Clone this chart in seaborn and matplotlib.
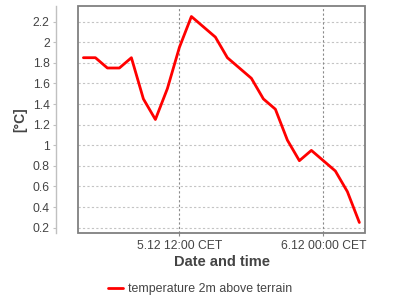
import matplotlib
matplotlib.use("Agg")
import matplotlib.pyplot as plt
import seaborn as sns
import pandas as pd
from matplotlib.patches import Rectangle

# hours since 5.12 00:00 CET
hours = [4, 5, 6, 7, 8, 9, 10, 11, 12, 13, 14, 15,
         16, 17, 18, 19, 20, 21, 22, 23, 24, 25, 26, 27]
temperature = [1.85, 1.85, 1.75, 1.75, 1.85, 1.45, 1.25, 1.55, 1.95, 2.25, 2.15, 2.05,
               1.85, 1.75, 1.65, 1.45, 1.35, 1.05, 0.85, 0.95, 0.85, 0.75, 0.55, 0.25]
series_name = "temperature 2m above terrain"

x_tick_pos = [12, 24]
x_tick_labels = ["5.12 12:00 CET", "6.12 00:00 CET"]
y_tick_pos = [0.2, 0.4, 0.6, 0.8, 1.0, 1.2, 1.4, 1.6, 1.8, 2.0, 2.2]
y_tick_labels = ["0.2", "0.4", "0.6", "0.8", "1", "1.2", "1.4", "1.6", "1.8", "2", "2.2"]

df = pd.DataFrame({"hour": hours, "temp": temperature, "series": series_name})

sns.set_style("white")
plt.rcParams["font.family"] = ["Liberation Sans", "DejaVu Sans"]

text_col = "#444444"
fig = plt.figure(figsize=(4, 3), dpi=100)
ax = fig.add_axes([78 / 400, 1 - 233 / 300, (365 - 78) / 400, (233 - 6) / 300])

sns.lineplot(data=df, x="hour", y="temp", hue="series", palette=["#ff0000"],
             linewidth=2, ax=ax, legend=True)

ax.set_xlim(3.55, 27.47)
ax.set_ylim(0.148, 2.352)

ax.set_xticks(x_tick_pos)
ax.set_xticklabels(x_tick_labels)
ax.set_yticks(y_tick_pos)
ax.set_yticklabels(y_tick_labels)

ax.tick_params(axis="x", direction="out", length=2.5, width=0.8, color="#888888",
               pad=2.5, labelsize=8.7, labelcolor=text_col, bottom=True)
ax.tick_params(axis="y", direction="out", length=2.5, width=0.8, color="#c0c0c0",
               pad=2, labelsize=8.7, labelcolor=text_col, left=True)

# grid
ax.grid(False)
for y in y_tick_pos:
    ax.axhline(y, color="#c4c4c4", lw=0.8, ls=(0, (2, 2)), zorder=0)
for x in x_tick_pos:
    ax.axvline(x, color="#8a8a8a", lw=0.8, ls=(0, (2, 2)), zorder=0)

# spines: detached y-axis line, frame box
for s in ["top", "right", "bottom"]:
    ax.spines[s].set_visible(False)
ax.spines["left"].set_position(("outward", 15.8))
ax.spines["left"].set_color("#c0c0c0")
ax.spines["left"].set_linewidth(1.0)
ax.add_patch(Rectangle((0, 0), 1, 1, transform=ax.transAxes, fill=False,
                       ec="#808080", lw=1.3, clip_on=False, zorder=5))

ax.set_xlabel("Date and time", fontsize=10.5, fontweight="bold", color=text_col)
ax.xaxis.set_label_coords(0.5, (233 - 262) / 227)
ax.xaxis.label.set_va("center")
ax.set_ylabel("[°C]", fontsize=10, fontweight="bold", color=text_col)
ax.yaxis.set_label_coords((20 - 78) / 287, 0.5)
ax.yaxis.label.set_va("center")

ax.legend(loc="center", bbox_to_anchor=(0.5, 11 / 300), bbox_transform=fig.transFigure,
          frameon=False, fontsize=8.9, handlelength=1.25, handletextpad=0.4,
          labelcolor=text_col, borderpad=0, borderaxespad=0)

fig.savefig("out.png", dpi=100)
